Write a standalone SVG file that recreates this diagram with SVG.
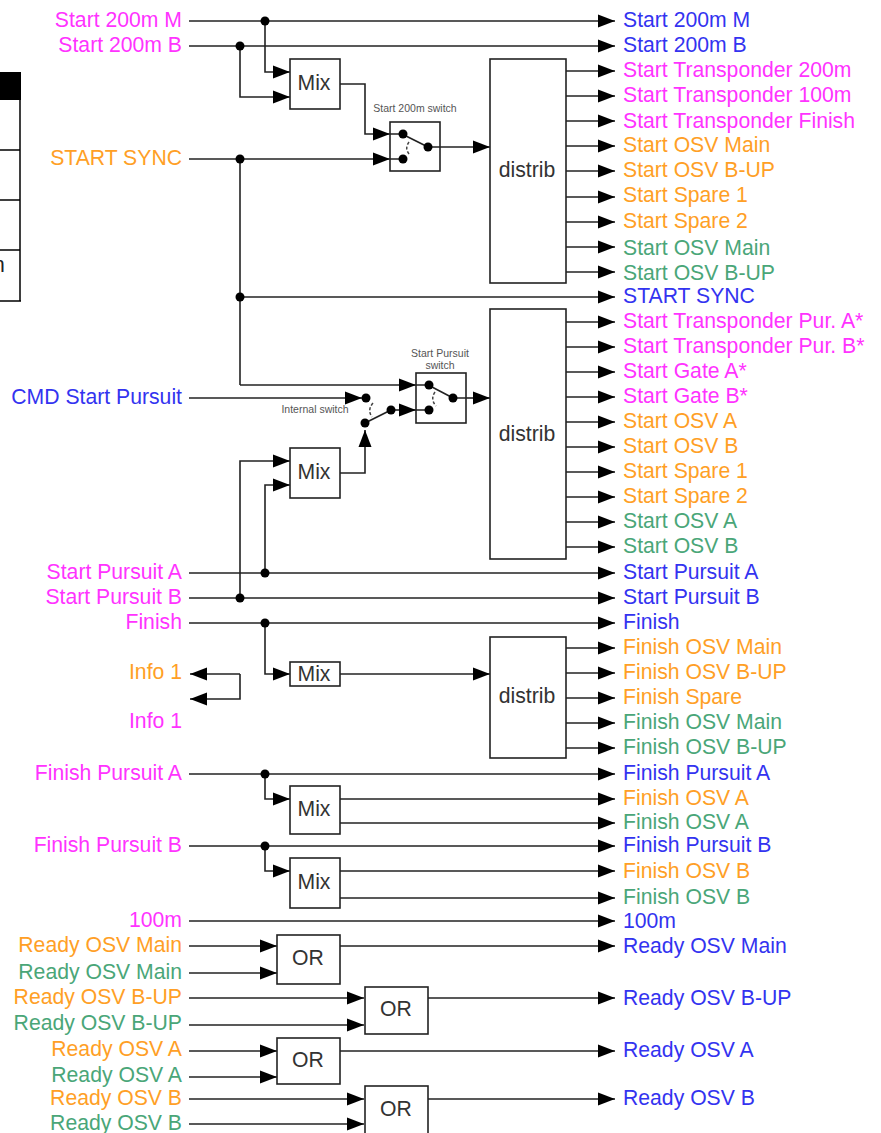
<svg xmlns="http://www.w3.org/2000/svg" width="881" height="1133" viewBox="0 0 881 1133">
<style>
text{font-family:"Liberation Sans",Arial,sans-serif;font-size:21.2px}
.m{fill:#ff33ff}.o{fill:#ff9f26}.g{fill:#4aa678}.b{fill:#3333f0}
.e{text-anchor:end}
.w{fill:none;stroke:#222;stroke-width:1.6}
.a{marker-end:url(#ar)}
.n rect{fill:#fff;stroke:#222;stroke-width:1.6}
.n text{fill:#333;text-anchor:middle}
.s{font-size:10.5px;fill:#555;text-anchor:middle}
.d{fill:#000}
.c{fill:none;stroke:#444;stroke-width:1.5;stroke-dasharray:3 2}
</style>
<defs>
<marker id="ar" markerUnits="userSpaceOnUse" markerWidth="17" markerHeight="14" refX="17" refY="7" orient="auto"><path d="M0 0.5L17 7L0 13.5Z" fill="#000"/></marker>
</defs>
<g id="table-fragment">
<rect x="0" y="72" width="21" height="28" fill="#000"/>
<path d="M20 100V301M0 150H20M0 200H20M0 250H20M0 301H21" fill="none" stroke="#000" stroke-width="1.5"/>
<text x="-7" y="272" fill="#222">n</text>
</g>
<g id="connectors">
<path class="w a" d="M189 21H615"/>
<path class="w a" d="M189 46H615"/>
<path class="w a" d="M265 21V72H290"/>
<path class="w a" d="M240 46V97H290"/>
<path class="w a" d="M340 84H365V134H390"/>
<path class="w a" d="M189 159H390"/>
<path class="w a" d="M440 147H490"/>
<path class="w" d="M240 159V385"/>
<path class="w a" d="M240 297H615"/>
<path class="w a" d="M240 385H416"/>
<path class="w a" d="M189 398H362"/>
<path class="w a" d="M391 410H416"/>
<path class="w a" d="M466 398H490"/>
<path class="w a" d="M340 473H365V430"/>
<path class="w a" d="M240 598V461H290"/>
<path class="w a" d="M265 573V485H290"/>
<path class="w a" d="M189 573H615"/>
<path class="w a" d="M189 598H615"/>
<path class="w a" d="M189 623H615"/>
<path class="w a" d="M265 623V674H290"/>
<path class="w a" d="M340 674H490"/>
<path class="w a" d="M240 674H190"/>
<path class="w a" d="M240 674V699H190"/>
<path class="w a" d="M189 774H615"/>
<path class="w a" d="M265 774V799H290"/>
<path class="w a" d="M340 799H615"/>
<path class="w a" d="M340 823H615"/>
<path class="w a" d="M189 846H615"/>
<path class="w a" d="M265 846V871H290"/>
<path class="w a" d="M340 871H615"/>
<path class="w a" d="M340 898H615"/>
<path class="w a" d="M189 921H615"/>
<path class="w a" d="M189 946H277"/>
<path class="w a" d="M189 973H277"/>
<path class="w a" d="M340 946H615"/>
<path class="w a" d="M189 998H364"/>
<path class="w a" d="M189 1025H364"/>
<path class="w a" d="M428 998H615"/>
<path class="w a" d="M189 1051H277"/>
<path class="w a" d="M189 1077H277"/>
<path class="w a" d="M340 1051H615"/>
<path class="w a" d="M189 1099H364"/>
<path class="w a" d="M189 1124H364"/>
<path class="w a" d="M428 1099H615"/>
<path class="w a" d="M566 71H615"/><path class="w a" d="M566 96H615"/><path class="w a" d="M566 121H615"/><path class="w a" d="M566 146H615"/><path class="w a" d="M566 171H615"/><path class="w a" d="M566 197H615"/><path class="w a" d="M566 222H615"/><path class="w a" d="M566 247H615"/><path class="w a" d="M566 272H615"/>
<path class="w a" d="M566 322H615"/><path class="w a" d="M566 347H615"/><path class="w a" d="M566 372H615"/><path class="w a" d="M566 397H615"/><path class="w a" d="M566 422H615"/><path class="w a" d="M566 447H615"/><path class="w a" d="M566 472H615"/><path class="w a" d="M566 497H615"/><path class="w a" d="M566 522H615"/><path class="w a" d="M566 547H615"/>
<path class="w a" d="M566 648H615"/><path class="w a" d="M566 673H615"/><path class="w a" d="M566 698H615"/><path class="w a" d="M566 723H615"/><path class="w a" d="M566 748H615"/>
<g class="d"><circle cx="265" cy="21" r="4.5"/><circle cx="240" cy="46" r="4.5"/><circle cx="240" cy="159" r="4.5"/><circle cx="240" cy="297" r="4.5"/><circle cx="265" cy="573" r="4.5"/><circle cx="240" cy="598" r="4.5"/><circle cx="265" cy="623" r="4.5"/><circle cx="265" cy="774" r="4.5"/><circle cx="265" cy="846" r="4.5"/></g>
</g>
<g id="mix1" class="n"><rect x="290" y="59" width="50" height="50"/><text x="314" y="90">Mix</text></g>
<g id="mix2" class="n"><rect x="290" y="448" width="50" height="50"/><text x="314" y="479">Mix</text></g>
<g id="mix3" class="n"><rect x="290" y="662" width="50" height="24"/><text x="314" y="681">Mix</text></g>
<g id="mix4" class="n"><rect x="290" y="786" width="50" height="48"/><text x="314" y="816">Mix</text></g>
<g id="mix5" class="n"><rect x="290" y="858" width="50" height="50"/><text x="314" y="889">Mix</text></g>
<g id="distrib1" class="n"><rect x="490" y="59" width="76" height="224"/><text x="527" y="177">distrib</text></g>
<g id="distrib2" class="n"><rect x="490" y="309" width="76" height="250"/><text x="527" y="441">distrib</text></g>
<g id="distrib3" class="n"><rect x="490" y="637" width="76" height="121"/><text x="527" y="703">distrib</text></g>
<g id="or1" class="n"><rect x="277" y="935" width="63" height="49"/><text x="308" y="965">OR</text></g>
<g id="or2" class="n"><rect x="365" y="987" width="63" height="47"/><text x="396" y="1016">OR</text></g>
<g id="or3" class="n"><rect x="277" y="1038" width="63" height="46"/><text x="308" y="1067">OR</text></g>
<g id="or4" class="n"><rect x="365" y="1086" width="63" height="50"/><text x="396" y="1116">OR</text></g>
<g id="switch1">
<rect x="390" y="122" width="50" height="49" fill="none" stroke="#222" stroke-width="1.6"/>
<path class="w" d="M390 134H403M406 136L428 147M428 147H440M390 159H403"/>
<g class="d"><circle cx="403" cy="134" r="4.5"/><circle cx="403" cy="159" r="4.5"/><circle cx="428" cy="147" r="4.5"/></g>
<path class="c" d="M409 142Q404 149 410 155"/>
<text class="s" x="415" y="112">Start 200m switch</text>
</g>
<g id="switch2">
<rect x="416" y="373" width="50" height="50" fill="none" stroke="#222" stroke-width="1.6"/>
<path class="w" d="M416 385H429M432 387L453 398M453 398H466M416 410H429"/>
<g class="d"><circle cx="429" cy="385" r="4.5"/><circle cx="429" cy="410" r="4.5"/><circle cx="453" cy="398" r="4.5"/></g>
<path class="c" d="M435 392Q430 399 436 406"/>
<text class="s" x="440" y="357">Start Pursuit</text>
<text class="s" x="440" y="369">switch</text>
</g>
<g id="internal-switch">
<path class="w" d="M365 423L391 410"/>
<g class="d"><circle cx="366" cy="398" r="4.5"/><circle cx="365" cy="423" r="4.5"/><circle cx="391" cy="410" r="4.5"/></g>
<path class="c" d="M373 403Q367 410 372 417"/>
<text class="s" x="315" y="413">Internal switch</text>
</g>
<g id="inputs" class="e">
<text class="m e" x="182" y="27">Start 200m M</text>
<text class="m e" x="182" y="52">Start 200m B</text>
<text class="o e" x="182" y="165">START SYNC</text>
<text class="b e" x="182" y="404">CMD Start Pursuit</text>
<text class="m e" x="182" y="579">Start Pursuit A</text>
<text class="m e" x="182" y="604">Start Pursuit B</text>
<text class="m e" x="182" y="629">Finish</text>
<text class="o e" x="182" y="679">Info 1</text>
<text class="m e" x="182" y="728">Info 1</text>
<text class="m e" x="182" y="780">Finish Pursuit A</text>
<text class="m e" x="182" y="852">Finish Pursuit B</text>
<text class="m e" x="182" y="927">100m</text>
<text class="o e" x="182" y="952">Ready OSV Main</text>
<text class="g e" x="182" y="979">Ready OSV Main</text>
<text class="o e" x="182" y="1004">Ready OSV B-UP</text>
<text class="g e" x="182" y="1030">Ready OSV B-UP</text>
<text class="o e" x="182" y="1056">Ready OSV A</text>
<text class="g e" x="182" y="1082">Ready OSV A</text>
<text class="o e" x="182" y="1105">Ready OSV B</text>
<text class="g e" x="182" y="1130">Ready OSV B</text>
</g>
<g id="outputs">
<text class="b" x="623" y="27">Start 200m M</text>
<text class="b" x="623" y="52">Start 200m B</text>
<text class="m" x="623" y="77">Start Transponder 200m</text>
<text class="m" x="623" y="102">Start Transponder 100m</text>
<text class="m" x="623" y="128">Start Transponder Finish</text>
<text class="o" x="623" y="152">Start OSV Main</text>
<text class="o" x="623" y="177">Start OSV B-UP</text>
<text class="o" x="623" y="202">Start Spare 1</text>
<text class="o" x="623" y="228">Start Spare 2</text>
<text class="g" x="623" y="255">Start OSV Main</text>
<text class="g" x="623" y="280">Start OSV B-UP</text>
<text class="b" x="623" y="303">START SYNC</text>
<text class="m" x="623" y="328">Start Transponder Pur. A*</text>
<text class="m" x="623" y="353">Start Transponder Pur. B*</text>
<text class="m" x="623" y="378">Start Gate A*</text>
<text class="m" x="623" y="403">Start Gate B*</text>
<text class="o" x="623" y="428">Start OSV A</text>
<text class="o" x="623" y="453">Start OSV B</text>
<text class="o" x="623" y="478">Start Spare 1</text>
<text class="o" x="623" y="503">Start Spare 2</text>
<text class="g" x="623" y="528">Start OSV A</text>
<text class="g" x="623" y="553">Start OSV B</text>
<text class="b" x="623" y="579">Start Pursuit A</text>
<text class="b" x="623" y="604">Start Pursuit B</text>
<text class="b" x="623" y="629">Finish</text>
<text class="o" x="623" y="654">Finish OSV Main</text>
<text class="o" x="623" y="679">Finish OSV B-UP</text>
<text class="o" x="623" y="704">Finish Spare</text>
<text class="g" x="623" y="729">Finish OSV Main</text>
<text class="g" x="623" y="754">Finish OSV B-UP</text>
<text class="b" x="623" y="780">Finish Pursuit A</text>
<text class="o" x="623" y="805">Finish OSV A</text>
<text class="g" x="623" y="829">Finish OSV A</text>
<text class="b" x="623" y="852">Finish Pursuit B</text>
<text class="o" x="623" y="878">Finish OSV B</text>
<text class="g" x="623" y="904">Finish OSV B</text>
<text class="b" x="623" y="928">100m</text>
<text class="b" x="623" y="953">Ready OSV Main</text>
<text class="b" x="623" y="1005">Ready OSV B-UP</text>
<text class="b" x="623" y="1057">Ready OSV A</text>
<text class="b" x="623" y="1105">Ready OSV B</text>
</g>
</svg>
